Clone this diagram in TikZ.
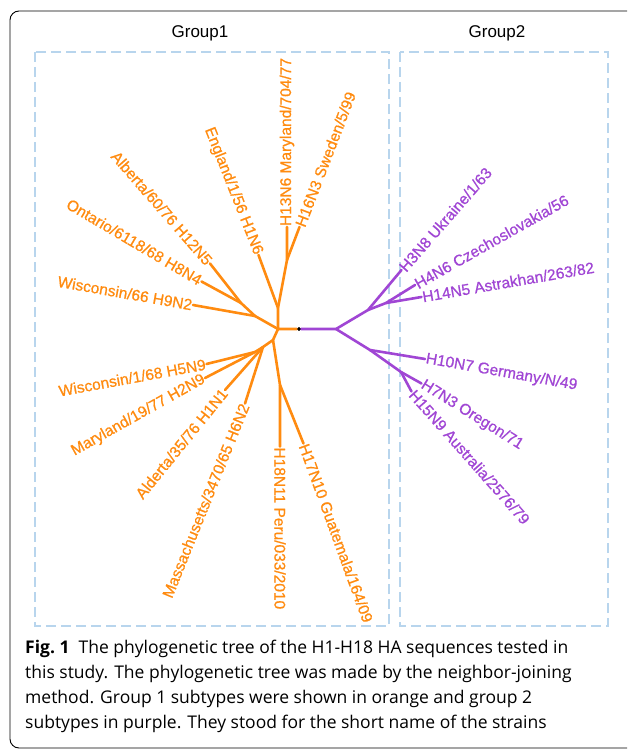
\documentclass[tikz,border=0pt]{standalone}
\usepackage{fontspec}
\setmainfont{Liberation Sans}
\newfontfamily\leaffont[FakeBold=0.8]{Liberation Sans}
\newfontfamily\capfont{Open Sans}
\usetikzlibrary{calc}

\definecolor{grporange}{RGB}{255,139,16}
\definecolor{grppurple}{RGB}{160,70,212}
\definecolor{boxblue}{RGB}{184,213,237}

\tikzset{
  branch/.style={line width=2.6pt,line cap=round,line join=round},
  leafw/.style={font=\leaffont\fontsize{15.5}{18}\selectfont,inner sep=0.8pt,anchor=west},
  leafe/.style={font=\leaffont\fontsize{15.5}{18}\selectfont,inner sep=0.8pt,anchor=east},
  groupbox/.style={draw=boxblue,line width=2.8pt,dash pattern=on 10pt off 5pt},
}

\begin{document}
\begin{tikzpicture}[x=1pt,y=-1pt]
    % The frame
    \useasboundingbox (0,0) rectangle (627,749);
    \clip (0,0) rectangle (627,749);
    \draw[line width=0.9pt,rounded corners=9pt] (10,11) rectangle (660,748);
    \draw[groupbox] (35,52) rectangle (389,626);
    \draw[groupbox] (400,52) rectangle (608,626);
    \node[font=\fontsize{17}{20}\selectfont] (g1) at (200,33) {Group1};
    \node[font=\fontsize{17}{20}\selectfont] (g2) at (497,33) {Group2};

    % The inner nodes
    \coordinate (root) at (278,329);
    \coordinate (B) at (278,308);
    \coordinate (A) at (287,260);
    \coordinate (D) at (241,303);
    \coordinate (E) at (255,316);
    \coordinate (G) at (273,340);
    \coordinate (H) at (263,347);
    \coordinate (I) at (255,352);
    \coordinate (F) at (280,385);
    \coordinate (P0) at (336,329);
    \coordinate (P1) at (368,310);
    \coordinate (P4) at (386,303);
    \coordinate (P2) at (370,350);
    \coordinate (P3) at (401,372);
    \node[circle,fill=black,inner sep=1.3pt] (mid) at (299,329) {};

    % Group 1 leaves
    \begin{scope}[grporange]
    \node[leafw,rotate=90] (h13n6) at (287,227) {H13N6 Maryland/704/77};
    \node[leafw,rotate=69] (h16n3) at (299.5,227) {H16N3 Sweden/5/99};
    \node[leafe,rotate=-68.5] (h1n6) at (258.5,255) {England/1/56 H1N6};
    \node[leafe,rotate=-49] (h12n5) at (210,263.5) {Alberta/60/76 H12N5};
    \node[leafe,rotate=-30.5] (h8n4) at (201.5,281.5) {Ontario/6118/68 H8N4};
    \node[leafe,rotate=-10] (h9n2) at (193,305) {Wisconsin/66 H9N2};
    \node[leafe,rotate=10.4] (h5n9) at (206.5,364) {Wisconsin/1/68 H5N9};
    \node[leafe,rotate=29.3] (h2n9) at (205,378) {Maryland/19/77 H2N9};
    \node[leafe,rotate=51] (h1n1) at (225,390) {Alderta/35/76 H1N1};
    \node[leafe,rotate=68] (h6n2) at (245,403.5) {Massachusetts/3470/65 H6N2};
    \node[leafw,rotate=-90] (h18n11) at (280,446.5) {H18N11 Peru/033/2010};
    \node[leafw,rotate=-70] (h17n10) at (303.5,443.5) {H17N10 Guatemala/164/09};
    \end{scope}

    % Group 2 leaves
    \begin{scope}[grppurple]
    \node[leafw,rotate=49] (h3n8) at (401.5,270) {H3N8 Ukraine/1/63};
    \node[leafw,rotate=29.5] (h4n6) at (415,285) {H4N6 Czechoslovakia/56};
    \node[leafw,rotate=9.8] (h14n5) at (421.5,297) {H14N5 Astrakhan/263/82};
    \node[leafw,rotate=-10] (h10n7) at (425,359) {H10N7 Germany/N/49};
    \node[leafw,rotate=-32] (h7n3) at (421.5,383.5) {H7N3 Oregon/71};
    \node[leafw,rotate=-48.5] (h15n9) at (411.5,391.5) {H15N9 Australia/2576/79};
    \end{scope}

    % The branches
    \draw[branch,grporange] (mid) -- (root) -- (B) -- (A) -- (h13n6.west);
    \draw[branch,grporange] (A) -- (h16n3.west);
    \draw[branch,grporange] (B) -- (h1n6.east);
    \draw[branch,grporange] (root) -- (E) -- (D) -- (h12n5.east);
    \draw[branch,grporange] (D) -- (h8n4.east);
    \draw[branch,grporange] (E) -- (h9n2.east);
    \draw[branch,grporange] (root) -- (G) -- (H) -- (I) -- (h5n9.east);
    \draw[branch,grporange] (I) -- (h2n9.east);
    \draw[branch,grporange] (H) -- (h1n1.east);
    \draw[branch,grporange] (H) -- (h6n2.east);
    \draw[branch,grporange] (G) -- (F) -- (h18n11.west);
    \draw[branch,grporange] (F) -- (h17n10.west);
    \draw[branch,grppurple] (mid) -- (P0) -- (P1) -- (h3n8.west);
    \draw[branch,grppurple] (P1) -- (P4) -- (h4n6.west);
    \draw[branch,grppurple] (P4) -- (h14n5.west);
    \draw[branch,grppurple] (P0) -- (P2) -- (h10n7.west);
    \draw[branch,grppurple] (P2) -- (P3) -- (h7n3.west);
    \draw[branch,grppurple] (P3) -- (h15n9.west);
    \node[circle,fill=black,inner sep=1.3pt] at (mid) {};

    % The caption
    \node[anchor=base west,align=left,inner sep=0pt,
      font=\capfont\fontsize{17.5}{24.7}\selectfont] (cap) at (25,728)
      {\textbf{Fig.~1}\ \ The phylogenetic tree of the H1-H18 HA sequences tested in\\
       this study. The phylogenetic tree was made by the neighbor-joining\\
       method. Group 1 subtypes were shown in orange and group 2\\
       subtypes in purple. They stood for the short name of the strains};
\end{tikzpicture}
\end{document}
